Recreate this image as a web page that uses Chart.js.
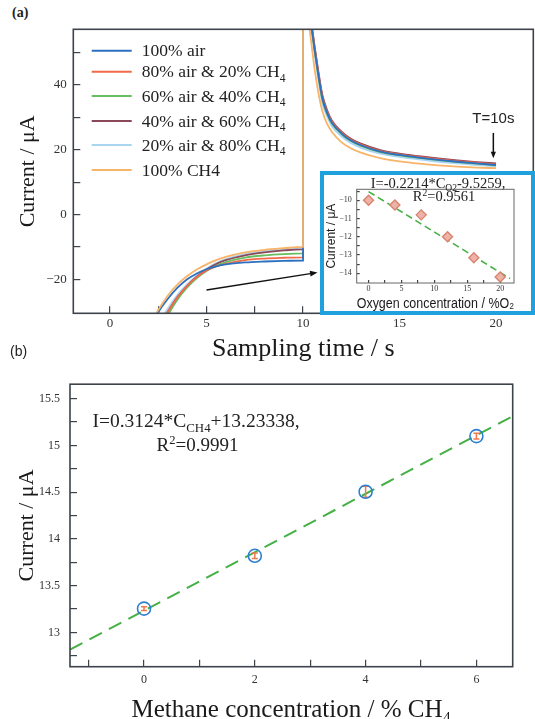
<!DOCTYPE html>
<html>
<head>
<meta charset="utf-8">
<script src="https://cdn.jsdelivr.net/npm/chart.js@4.4.0/dist/chart.umd.min.js"></script>
<style>
  html, body { margin: 0; padding: 0; background: #fff; }
  body { position: relative; width: 535px; height: 719px; overflow: hidden; }
  canvas { position: absolute; }
  .tag { position: absolute; color: #222; }
  #inset { position: absolute; left: 320px; top: 171px; width: 215px; height: 144px;
           box-sizing: border-box; border: 4px solid #1ea1dc; background: #fff; }
  #inset canvas { left: 0; top: 0; }
</style>
</head>
<body>
<div class="tag" style="left:12px;top:5px;font:bold 14px 'Liberation Serif'">(a)</div>
<canvas id="timeChart" width="535" height="370" style="left:0;top:0"></canvas>
<div id="inset"><canvas id="oxygenChart" width="207" height="136"></canvas></div>
<canvas id="methaneChart" width="535" height="375" style="left:0;top:360px"></canvas>
<div class="tag" style="left:10px;top:343px;font:14px 'Liberation Sans'">(b)</div>

<script>
const SERIF = "'Liberation Serif', 'DejaVu Serif', serif";
const SANS = "'Liberation Sans', 'DejaVu Sans', sans-serif";
const AXIS = '#3d434a';

// (a) current transients, sampled in seconds
const times = [2, 2.5, 3, 3.5, 4, 4.5, 5, 5.5, 6, 7, 8, 9, 10, 10, 10.3, 10.45, 10.6, 10.8, 11, 11.25, 11.5, 12, 12.5, 13, 14, 15, 16, 17, 18, 19, 20];
const air100 = [-36, -30.2, -26.0, -22.6, -20.0, -18.2, -16.9, -16.0, -15.4, -14.8, -14.5, -14.3, -14.2, 70, 62.5, 57.5, 51, 43, 36, 31.4, 28.3, 25, 22.8, 21.4, 19.4, 18.4, 17.6, 16.9, 16.3, 15.8, 15.3];
const air80 = [-41, -35, -30.0, -25.5, -22.0, -19.3, -17.3, -16.0, -15.2, -14.1, -13.6, -13.35, -13.2, 70, 63, 58, 51.5, 43.5, 36.5, 31.8, 28.6, 25.3, 23.0, 21.6, 19.6, 18.6, 17.8, 17.1, 16.5, 16.0, 15.5];
const air60 = [-42, -36, -31.0, -26.2, -22.5, -19.6, -17.4, -15.8, -14.7, -13.3, -12.6, -12.2, -12.0, 70, 62, 57, 50.5, 42.5, 35.5, 31, 28, 24.8, 22.6, 21.2, 19.3, 18.3, 17.5, 16.8, 16.2, 15.7, 15.2];
const air40 = [-41, -35, -30.0, -25.5, -22.0, -19.2, -17.0, -15.3, -14.1, -12.6, -11.7, -11.1, -10.75, 70, 64, 58.5, 52, 44, 37, 32.2, 29, 25.6, 23.3, 21.9, 19.9, 18.8, 18.0, 17.3, 16.7, 16.2, 15.8];
const air20 = [-40, -34, -29.0, -24.8, -21.5, -18.8, -16.7, -15.0, -13.8, -12.2, -11.3, -10.7, -10.3, 70, 61, 56, 49.5, 41.5, 34.5, 30.2, 27.2, 24.1, 22.0, 20.6, 18.8, 17.8, 17.0, 16.3, 15.8, 15.3, 14.9];
const ch4100 = [-35, -29.5, -25.0, -21.6, -19.0, -17.0, -15.4, -14.1, -13.1, -11.7, -10.9, -10.4, -10.0, 70, 59, 52, 45, 37.5, 32, 28, 25.5, 22.3, 20.4, 19.1, 17.4, 16.4, 15.7, 15.2, 14.8, 14.5, 14.3];
const seriesValues = [air100, air80, air60, air40, air20, ch4100];
const seriesLabels = [
  ['100% air'],
  ['80% air & 20% CH', ['sub', '4']],
  ['60% air & 40% CH', ['sub', '4']],
  ['40% air & 60% CH', ['sub', '4']],
  ['20% air & 80% CH', ['sub', '4']],
  ['100% CH4']
];
const seriesColors = ['#2b71c0', '#f2694a', '#67bd5f', '#8a4858', '#a9d5f3', '#f8b468'];

const timeMajor = [0, 5, 10, 15, 20];
const timeMinor = [2.5, 7.5, 12.5, 17.5];
const currentMajor = [-20, 0, 20, 40];
const currentMinor = [-10, 10, 30, 50];

const pointerFrom = [5.0, -23.3];
const pointerTo = [10.75, -17.9];
const stepMark = { time: 19.86, from: 25.2, to: 17.4, label: 'T=10s', labelAt: 29.4 };

// inset: current at T=10s against oxygen content
const oxygenPct = [0, 4, 8, 12, 16, 20];
const oxygenCurrent = [-10.0, -10.26, -10.8, -12.0, -13.15, -14.2];
const oxygenFit = { slope: -0.2214, intercept: -9.5259, from: 0, to: 21.5 };
const oxyMajor = [0, 5, 10, 15, 20];
const oxyMinor = [2.5, 7.5, 12.5, 17.5];
const oxyCurMajor = [-14, -13, -12, -11, -10];
const oxyCurMinor = [-13.5, -12.5, -11.5, -10.5, -9.5];

// (b) calibration against methane
const methanePct = [0, 2, 4, 6];
const methaneCurrent = [13.255, 13.82, 14.505, 15.10];
const methaneError = [0.02, 0.03, 0.06, 0.03];
const methaneFit = { slope: 0.3124, intercept: 13.23338, from: -1.336, to: 6.655 };
const methaneMajor = [0, 2, 4, 6];
const methaneMinor = [-1, 1, 3, 5];
const calMajor = [13, 13.5, 14, 14.5, 15, 15.5];
const calMinor = [12.75, 13.25, 13.75, 14.25, 14.75, 15.25];

function fitPoints(f) {
  return [f.from, f.to].map(x => ({ x, y: f.slope * x + f.intercept }));
}

// text with sub/superscript runs, y is the visual middle
function drawRich(ctx, parts, x, y, size, family, align) {
  const small = size * 0.66;
  const runs = parts.map(p => typeof p === 'string'
    ? { text: p, size, dy: 0 }
    : { text: p[1], size: small, dy: p[0] === 'sub' ? size * 0.25 : -size * 0.38 });
  let width = 0;
  runs.forEach(r => { ctx.font = r.size + 'px ' + family; r.w = ctx.measureText(r.text).width; width += r.w; });
  let cx = align === 'center' ? x - width / 2 : (align === 'right' ? x - width : x);
  ctx.textBaseline = 'alphabetic';
  ctx.textAlign = 'left';
  const base = y + size * 0.33;
  runs.forEach(r => { ctx.font = r.size + 'px ' + family; ctx.fillText(r.text, cx, base + r.dy); cx += r.w; });
}

function arrow(ctx, x1, y1, x2, y2, head) {
  const a = Math.atan2(y2 - y1, x2 - x1);
  ctx.beginPath();
  ctx.moveTo(x1, y1);
  ctx.lineTo(x2 - Math.cos(a) * head * 0.7, y2 - Math.sin(a) * head * 0.7);
  ctx.stroke();
  ctx.beginPath();
  ctx.moveTo(x2, y2);
  ctx.lineTo(x2 - head * Math.cos(a - 0.38), y2 - head * Math.sin(a - 0.38));
  ctx.lineTo(x2 - head * Math.cos(a + 0.38), y2 - head * Math.sin(a + 0.38));
  ctx.closePath();
  ctx.fill();
}

function ticksFrom(major, minor) {
  return scale => {
    scale.ticks = major.concat(minor).sort((a, b) => a - b).map(v => ({ value: v }));
  };
}

function axis(o) {
  return {
    type: 'linear', min: o.min, max: o.max,
    afterBuildTicks: ticksFrom(o.major, o.minor),
    afterFit: s => { if (s.isHorizontal()) s.height = o.size; else s.width = o.size; },
    border: { display: false },
    grid: { drawOnChartArea: false, tickLength: -o.tick, color: AXIS, lineWidth: 1.2 },
    ticks: {
      autoSkip: false, maxRotation: 0, padding: o.pad, color: '#333',
      font: { family: SERIF, size: o.tickSize },
      callback: v => o.major.includes(v) ? String(v).replace('-', '\u2212') : ''
    },
    title: {
      display: true, text: o.title, color: '#1a1a1a',
      font: { family: o.titleFamily || SERIF, size: o.titleSize, lineHeight: o.titleLine || 1.2 },
      padding: o.titlePad
    }
  };
}

const frame = {
  id: 'frame',
  afterDatasetsDraw(chart, args, opts) {
    const { ctx, chartArea: a } = chart;
    ctx.save();
    ctx.strokeStyle = opts.color;
    ctx.lineWidth = opts.width;
    ctx.strokeRect(a.left, a.top, a.right - a.left, a.bottom - a.top);
    ctx.restore();
  }
};

const baseOptions = {
  responsive: false, animation: false, devicePixelRatio: 1,
  plugins: { legend: { display: false }, tooltip: { enabled: false } }
};

// ---------- (a) ----------
const insideLegend = {
  id: 'insideLegend',
  afterDatasetsDraw(chart) {
    const { ctx, chartArea: a } = chart;
    const rows = [21.4, 42.4, 66.7, 91.7, 115.7, 140.7];
    chart.data.datasets.forEach((ds, i) => {
      const y = a.top + rows[i];
      ctx.save();
      ctx.strokeStyle = ds.borderColor;
      ctx.lineWidth = 2;
      ctx.beginPath();
      ctx.moveTo(a.left + 18.4, y);
      ctx.lineTo(a.left + 58.4, y);
      ctx.stroke();
      ctx.fillStyle = '#222';
      drawRich(ctx, ds.legendParts, a.left + 68.4, y, 17.5, SERIF, 'left');
      ctx.restore();
    });
  }
};

const timeNotes = {
  id: 'timeNotes',
  afterDatasetsDraw(chart) {
    const { ctx, scales: { x, y } } = chart;
    ctx.save();
    ctx.strokeStyle = '#111';
    ctx.fillStyle = '#111';
    ctx.lineWidth = 1.5;
    arrow(ctx, x.getPixelForValue(pointerFrom[0]), y.getPixelForValue(pointerFrom[1]),
      x.getPixelForValue(pointerTo[0]), y.getPixelForValue(pointerTo[1]), 8);
    const mx = x.getPixelForValue(stepMark.time);
    arrow(ctx, mx, y.getPixelForValue(stepMark.from), mx, y.getPixelForValue(stepMark.to), 7);
    ctx.font = '15px ' + SANS;
    ctx.textAlign = 'center';
    ctx.textBaseline = 'middle';
    ctx.fillStyle = '#222';
    ctx.fillText(stepMark.label, mx, y.getPixelForValue(stepMark.labelAt));
    ctx.restore();
  }
};

new Chart(document.getElementById('timeChart'), {
  type: 'scatter',
  data: {
    datasets: seriesValues.map((vals, i) => ({
      label: seriesLabels[i].map(p => typeof p === 'string' ? p : p[1]).join(''),
      legendParts: seriesLabels[i],
      data: times.map((t, k) => ({ x: t, y: vals[k] })),
      showLine: true,
      borderColor: seriesColors[i],
      borderWidth: 1.8,
      pointRadius: 0,
      cubicInterpolationMode: 'monotone',
      order: i === 5 ? 0 : 1
    }))
  },
  options: {
    ...baseOptions,
    layout: { padding: { top: 29.3, right: 1.7, left: 0, bottom: 0 } },
    plugins: { ...baseOptions.plugins, frame: { color: AXIS, width: 1.6 } },
    scales: {
      x: axis({ min: -1.9, max: 21.93, major: timeMajor, minor: timeMinor, size: 56.7, tick: 7, pad: 9.9,
        tickSize: 13, title: 'Sampling time / s', titleSize: 26, titlePad: { top: 0, bottom: 5.4 } }),
      y: axis({ min: -30.5, max: 57.2, major: currentMajor, minor: currentMinor, size: 73.3, tick: 7, pad: 13.6,
        tickSize: 13, title: 'Current / \u03bcA', titleSize: 22, titlePad: { top: 15, bottom: 0 } })
    }
  },
  plugins: [frame, insideLegend, timeNotes]
});

// ---------- inset ----------
const oxygenNotes = {
  id: 'oxygenNotes',
  afterDatasetsDraw(chart) {
    const { ctx, chartArea: a } = chart;
    ctx.save();
    ctx.fillStyle = '#222';
    drawRich(ctx, ['I=-0.2214*C', ['sub', 'O2'], '-9.5259,'], a.left + 81.3, a.top - 6.3, 14.5, SERIF, 'center');
    drawRich(ctx, ['R', ['sup', '2'], '=0.9561'], a.left + 87.3, a.top + 7.4, 14.5, SERIF, 'center');
    ctx.restore();
  }
};

new Chart(document.getElementById('oxygenChart'), {
  type: 'scatter',
  data: {
    datasets: [
      {
        data: oxygenPct.map((c, i) => ({ x: c, y: oxygenCurrent[i] })),
        pointStyle: 'rectRot', pointRadius: 5,
        backgroundColor: '#eeb3a8', borderColor: '#d98470', borderWidth: 1.4,
        order: 0
      },
      {
        data: fitPoints(oxygenFit),
        showLine: true, pointRadius: 0, borderColor: '#45b045', borderWidth: 1.6,
        borderDash: [7, 4], order: 1
      }
    ]
  },
  options: {
    ...baseOptions,
    layout: { padding: { top: 14.3, right: 17, left: 0, bottom: 0 } },
    plugins: { ...baseOptions.plugins, frame: { color: '#666', width: 1 } },
    scales: {
      x: axis({ min: -1.8, max: 22.1, major: oxyMajor, minor: oxyMinor, size: 28, tick: 3, pad: 3.7,
        tickSize: 8, title: 'Oxygen concentration / %O\u2082', titleFamily: SANS, titleSize: 15.5, titleLine: 1,
        titlePad: { top: 0, bottom: 0 } }),
      y: axis({ min: -14.53, max: -9.4, major: oxyCurMajor, minor: oxyCurMinor, size: 32.7, tick: 3, pad: 8,
        tickSize: 8, title: 'Current / \u03bcA', titleFamily: SANS, titleSize: 12,
        titlePad: { top: 0.5, bottom: 0 } })
    }
  },
  plugins: [frame, oxygenNotes]
});

// ---------- (b) ----------
const errorBars = {
  id: 'errorBars',
  beforeDatasetDraw(chart, args) {
    if (args.index !== 0) return;
    const { ctx, scales: { x, y } } = chart;
    ctx.save();
    ctx.strokeStyle = '#f0784c';
    ctx.lineWidth = 1.5;
    methanePct.forEach((c, i) => {
      const px = x.getPixelForValue(c);
      const top = y.getPixelForValue(methaneCurrent[i] + methaneError[i]);
      const bot = y.getPixelForValue(methaneCurrent[i] - methaneError[i]);
      ctx.beginPath();
      ctx.moveTo(px, top); ctx.lineTo(px, bot);
      ctx.moveTo(px - 3, top); ctx.lineTo(px + 3, top);
      ctx.moveTo(px - 3, bot); ctx.lineTo(px + 3, bot);
      ctx.stroke();
    });
    ctx.restore();
  }
};

const methaneNotes = {
  id: 'methaneNotes',
  afterDatasetsDraw(chart) {
    const { ctx, chartArea: a } = chart;
    ctx.save();
    ctx.fillStyle = '#222';
    drawRich(ctx, ['I=0.3124*C', ['sub', 'CH4'], '+13.23338,'], a.left + 126, a.top + 36.3, 19.5, SERIF, 'center');
    drawRich(ctx, ['R', ['sup', '2'], '=0.9991'], a.left + 127.5, a.top + 60.3, 19, SERIF, 'center');
    ctx.restore();
  }
};

new Chart(document.getElementById('methaneChart'), {
  type: 'scatter',
  data: {
    datasets: [
      {
        data: methanePct.map((c, i) => ({ x: c, y: methaneCurrent[i] })),
        pointStyle: 'circle', pointRadius: 6.5,
        backgroundColor: 'rgba(0,0,0,0)', borderColor: '#2f7fd0', borderWidth: 1.6,
        order: 0
      },
      {
        data: fitPoints(methaneFit),
        showLine: true, pointRadius: 0, borderColor: '#45b045', borderWidth: 2,
        borderDash: [14, 8], order: 1
      }
    ]
  },
  options: {
    ...baseOptions,
    layout: { padding: { top: 22.7, right: 22.3, left: 0, bottom: 0 } },
    plugins: { ...baseOptions.plugins, frame: { color: AXIS, width: 1.6 } },
    scales: {
      x: axis({ min: -1.336, max: 6.655, major: methaneMajor, minor: methaneMinor, size: 68.3, tick: 7, pad: 13.1,
        tickSize: 12, title: 'Methane concentration / % CH\u2084', titleSize: 25, titlePad: { top: 0, bottom: 10 } }),
      y: axis({ min: 12.634, max: 15.655, major: calMajor, minor: calMinor, size: 70, tick: 7, pad: 17,
        tickSize: 12, title: 'Current / \u03bcA', titleSize: 22, titlePad: { top: 14, bottom: 0 } })
    }
  },
  plugins: [frame, errorBars, methaneNotes]
});
</script>
</body>
</html>
